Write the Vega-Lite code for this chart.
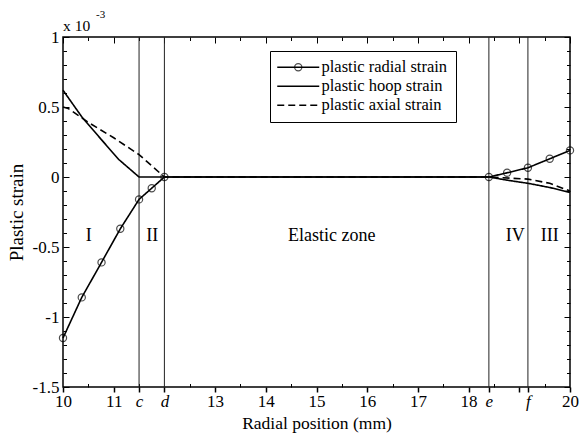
{
  "$schema": "https://vega.github.io/schema/vega-lite/v6.json",
  "width": 507,
  "height": 350,
  "autosize": "none",
  "padding": {"left": 63, "top": 37, "right": 10, "bottom": 46},
  "background": "white",
  "config": {
    "font": "Liberation Serif",
    "view": {"stroke": "black", "strokeWidth": 1.5},
    "axis": {
      "grid": false,
      "domain": false,
      "zindex": 1,
      "labelColor": "black",
      "labelFontSize": 17,
      "titleFontSize": 17.5,
      "titleFontWeight": "normal",
      "titleColor": "black",
      "labelFlush": false,
      "labelOverlap": false,
      "labelBound": false
    }
  },
  "datasets": {
    "curves": [
      {"series": "plastic radial strain", "r": 10, "v": -1.15},
      {"series": "plastic radial strain", "r": 10.37, "v": -0.86},
      {"series": "plastic radial strain", "r": 10.76, "v": -0.61},
      {"series": "plastic radial strain", "r": 11.13, "v": -0.37},
      {"series": "plastic radial strain", "r": 11.5, "v": -0.16},
      {"series": "plastic radial strain", "r": 11.75, "v": -0.08},
      {"series": "plastic radial strain", "r": 12, "v": 0},
      {"series": "plastic radial strain", "r": 18.4, "v": 0},
      {"series": "plastic radial strain", "r": 18.76, "v": 0.03},
      {"series": "plastic radial strain", "r": 19.17, "v": 0.066},
      {"series": "plastic radial strain", "r": 19.6, "v": 0.13},
      {"series": "plastic radial strain", "r": 20, "v": 0.19},
      {"series": "plastic hoop strain", "r": 10, "v": 0.62},
      {"series": "plastic hoop strain", "r": 10.37, "v": 0.43},
      {"series": "plastic hoop strain", "r": 10.75, "v": 0.27},
      {"series": "plastic hoop strain", "r": 11.1, "v": 0.125},
      {"series": "plastic hoop strain", "r": 11.5, "v": 0},
      {"series": "plastic hoop strain", "r": 18.4, "v": 0},
      {"series": "plastic hoop strain", "r": 18.8, "v": -0.025},
      {"series": "plastic hoop strain", "r": 19.17, "v": -0.045},
      {"series": "plastic hoop strain", "r": 19.6, "v": -0.075},
      {"series": "plastic hoop strain", "r": 20, "v": -0.11},
      {"series": "plastic axial strain", "r": 10, "v": 0.5},
      {"series": "plastic axial strain", "r": 10.1, "v": 0.49},
      {"series": "plastic axial strain", "r": 10.5, "v": 0.39},
      {"series": "plastic axial strain", "r": 11, "v": 0.28},
      {"series": "plastic axial strain", "r": 11.5, "v": 0.16},
      {"series": "plastic axial strain", "r": 12, "v": 0},
      {"series": "plastic axial strain", "r": 18.4, "v": 0},
      {"series": "plastic axial strain", "r": 19.17, "v": -0.015},
      {"series": "plastic axial strain", "r": 19.6, "v": -0.045},
      {"series": "plastic axial strain", "r": 20, "v": -0.1}
    ],
    "bounds": [
      {"name": "c", "r": 11.5},
      {"name": "d", "r": 12},
      {"name": "e", "r": 18.4},
      {"name": "f", "r": 19.17}
    ],
    "zones": [
      {"label": "I", "r": 10.51, "v": -0.42},
      {"label": "II", "r": 11.76, "v": -0.42},
      {"label": "Elastic zone", "r": 15.3, "v": -0.42},
      {"label": "IV", "r": 18.92, "v": -0.42},
      {"label": "III", "r": 19.6, "v": -0.42}
    ]
  },
  "resolve": {"axis": {"x": "independent", "y": "independent"}},
  "layer": [
    {
      "data": {"name": "bounds"},
      "mark": {"type": "rule", "color": "#222", "strokeWidth": 1},
      "encoding": {
        "x": {
          "field": "r", "type": "quantitative",
          "scale": {"domain": [10, 20], "nice": false, "zero": false},
          "axis": {
            "orient": "bottom",
            "title": "Radial position (mm)",
            "titlePadding": 5,
            "labelPadding": 1,
            "offset": 0,
            "ticks": true, "tickSize": 5, "tickColor": "#000000", "tickWidth": 1.5, "tickOpacity": 1,
            "values": [10, 11, 11.5, 12, 13, 14, 15, 16, 17, 18, 18.4, 19, 19.17, 20],
            "labelExpr": "datum.value == 11.5 ? 'c' : datum.value == 12 ? 'd' : datum.value == 18.4 ? 'e' : datum.value == 19.17 ? 'f' : (datum.value != 19) ? '' + datum.value : ''",
            "labelFontStyle": {"condition": {"test": "datum.value == 11.5 || datum.value == 12 || datum.value == 18.4 || datum.value == 19.17", "value": "italic"}, "value": "normal"}
          }
        }
      }
    },
    {
      "data": {"name": "curves"},
      "mark": {"type": "line", "color": "black", "strokeWidth": 1.6},
      "encoding": {
        "x": {
          "field": "r", "type": "quantitative",
          "scale": {"domain": [10, 20], "nice": false, "zero": false},
          "axis": {
            "orient": "top", "title": null, "labels": false,
            "offset": -6,
            "ticks": true, "tickSize": 6, "tickColor": "#000000", "tickWidth": 1, "tickOpacity": 1,
            "values": [10, 11, 12, 13, 14, 15, 16, 17, 18, 19, 20]
          }
        },
        "y": {
          "field": "v", "type": "quantitative",
          "scale": {"domain": [-1.5, 1], "nice": false, "zero": false},
          "axis": {
            "orient": "left",
            "title": "Plastic strain",
            "titleFontSize": 19,
            "titlePadding": 6,
            "labelPadding": 4,
            "offset": -6,
            "ticks": true, "tickSize": 6, "tickColor": "#000000", "tickWidth": 1, "tickOpacity": 1,
            "values": [-1.5, -1, -0.5, 0, 0.5, 1],
            "labelExpr": "'' + datum.value"
          }
        },
        "strokeDash": {
          "field": "series", "type": "nominal",
          "scale": {"domain": ["plastic radial strain", "plastic hoop strain", "plastic axial strain"], "range": [[1, 0], [1, 0], [7, 4]]},
          "legend": {
            "orient": "none",
            "legendX": 207,
            "legendY": 14,
            "title": null,
            "symbolType": "M-3.5,0L3.5,0",
            "symbolSize": 144,
            "symbolStrokeWidth": 1.6,
            "symbolStrokeColor": "black",
            "labelFont": "Liberation Serif",
            "labelFontSize": 16.5,
            "labelColor": "black",
            "labelLimit": 300,
            "labelOffset": 15,
            "symbolOffset": 12,
            "padding": 8,
            "rowPadding": 2,
            "strokeColor": "black",
            "fillColor": "white",
            "zindex": 2
          }
        }
      }
    },
    {
      "data": {"name": "curves"},
      "transform": [{"filter": "datum.series == 'plastic radial strain'"}],
      "mark": {"type": "point", "filled": false, "stroke": "black", "strokeWidth": 1.2, "size": 144},
      "encoding": {
        "x": {
          "field": "r", "type": "quantitative",
          "scale": {"domain": [10, 20], "nice": false, "zero": false},
          "axis": {
            "orient": "bottom", "title": null, "labels": false,
            "offset": -3.5,
            "ticks": true, "tickSize": 3.5, "tickColor": "#000000", "tickWidth": 1, "tickOpacity": 1,
            "values": [10.5, 11.5, 12.5, 13.5, 14.5, 15.5, 16.5, 17.5, 18.5, 19.5]
          }
        },
        "y": {
          "field": "v", "type": "quantitative",
          "scale": {"domain": [-1.5, 1], "nice": false, "zero": false},
          "axis": {
            "orient": "right", "title": null, "labels": false,
            "offset": -6,
            "ticks": true, "tickSize": 6, "tickColor": "#000000", "tickWidth": 1, "tickOpacity": 1,
            "values": [-1.5, -1, -0.5, 0, 0.5, 1]
          }
        },
        "shape": {
          "field": "series", "type": "nominal",
          "scale": {"domain": ["plastic radial strain", "-", "--"], "range": ["M0.6,0A0.6,0.6,0,1,1,-0.6,0A0.6,0.6,0,1,1,0.6,0Z", "M0,0", "M0,0"]},
          "legend": {
            "orient": "none",
            "legendX": 207,
            "legendY": 14,
            "title": null,
            "symbolSize": 144,
            "symbolStrokeWidth": 1.2,
            "symbolStrokeColor": "black",
            "symbolFillColor": "transparent",
            "labelFont": "Liberation Serif",
            "labelFontSize": 16.5,
            "labelExpr": "''",
            "labelOffset": 15,
            "symbolOffset": 12,
            "padding": 8,
            "rowPadding": 2,
            "strokeColor": null,
            "fillColor": null,
            "zindex": 3
          }
        }
      }
    },
    {
      "data": {"name": "zones"},
      "mark": {"type": "text", "fontSize": 18, "color": "black", "font": "Liberation Serif"},
      "encoding": {
        "x": {
          "field": "r", "type": "quantitative",
          "scale": {"domain": [10, 20], "nice": false, "zero": false},
          "axis": {
            "orient": "top", "title": null, "labels": false,
            "offset": -3.5,
            "ticks": true, "tickSize": 3.5, "tickColor": "#000000", "tickWidth": 1, "tickOpacity": 1,
            "values": [10.5, 11.5, 12.5, 13.5, 14.5, 15.5, 16.5, 17.5, 18.5, 19.5]
          }
        },
        "y": {
          "field": "v", "type": "quantitative",
          "scale": {"domain": [-1.5, 1], "nice": false, "zero": false},
          "axis": {
            "orient": "left", "title": null, "labels": false,
            "offset": -3.5,
            "ticks": true, "tickSize": 3.5, "tickColor": "#000000", "tickWidth": 1, "tickOpacity": 1,
            "values": [-1.4, -1.3, -1.2, -1.1, -0.9, -0.8, -0.7, -0.6, -0.4, -0.3, -0.2, -0.1, 0.1, 0.2, 0.3, 0.4, 0.6, 0.7, 0.8, 0.9]
          }
        },
        "text": {"field": "label"}
      }
    },
    {
      "data": {"values": [{"t": "x 10"}]},
      "mark": {"type": "text", "align": "left", "baseline": "middle", "dy": -11, "fontSize": 15.5, "color": "black"},
      "encoding": {
        "x": {"datum": 10, "type": "quantitative", "scale": {"domain": [10, 20], "nice": false, "zero": false}, "axis": null},
        "y": {
          "datum": 1, "type": "quantitative",
          "scale": {"domain": [-1.5, 1], "nice": false, "zero": false},
          "axis": {
            "orient": "right", "title": null, "labels": false,
            "offset": -3.5,
            "ticks": true, "tickSize": 3.5, "tickColor": "#000000", "tickWidth": 1, "tickOpacity": 1,
            "values": [-1.4, -1.3, -1.2, -1.1, -0.9, -0.8, -0.7, -0.6, -0.4, -0.3, -0.2, -0.1, 0.1, 0.2, 0.3, 0.4, 0.6, 0.7, 0.8, 0.9]
          }
        },
        "text": {"field": "t"}
      }
    },
    {
      "data": {"values": [{"t": "-3"}]},
      "mark": {"type": "text", "align": "left", "baseline": "middle", "dx": 33, "dy": -22, "fontSize": 11, "color": "black"},
      "encoding": {
        "x": {"datum": 10, "type": "quantitative", "scale": {"domain": [10, 20], "nice": false, "zero": false}, "axis": null},
        "y": {"datum": 1, "type": "quantitative", "scale": {"domain": [-1.5, 1], "nice": false, "zero": false}, "axis": null},
        "text": {"field": "t"}
      }
    }
  ]
}
